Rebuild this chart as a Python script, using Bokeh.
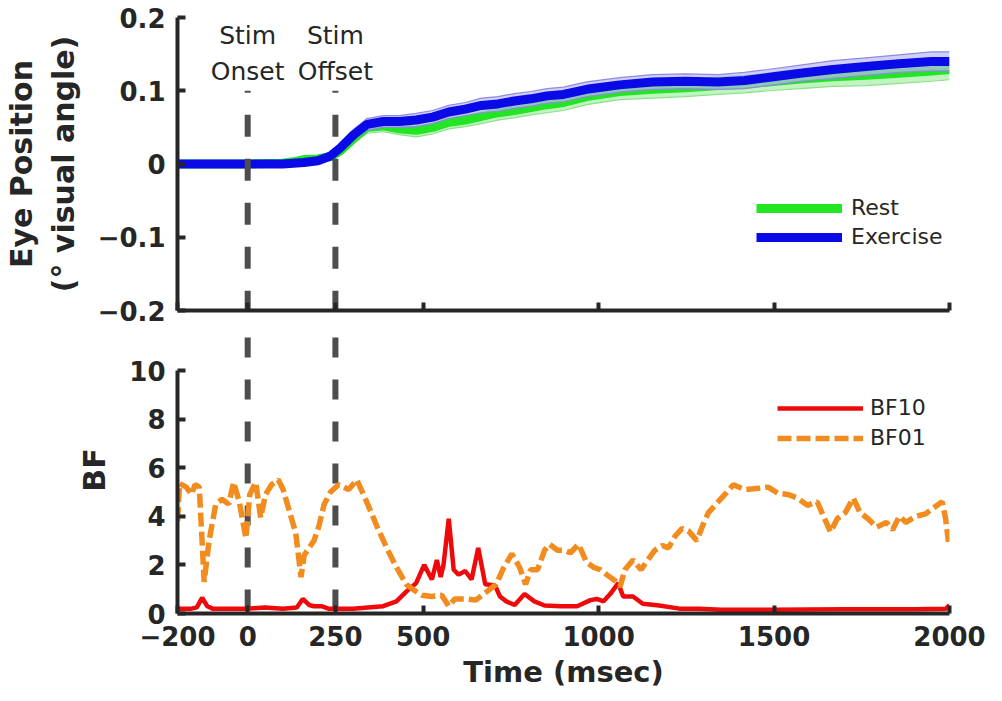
from bokeh.plotting import figure
from bokeh.models import Range1d, FixedTicker, Legend, LegendItem
from bokeh.layouts import column
from bokeh.core.properties import value
from bokeh.embed import file_html
from bokeh.resources import INLINE

# ---------------- data ----------------
time_ticks = [-200, 0, 250, 500, 1000, 1500, 2000]
time_tick_labels = ["\u2212200", "0", "250", "500", "1000", "1500", "2000"]
eye_ticks = [-0.2, -0.1, 0, 0.1, 0.2]
eye_tick_labels = ["\u22120.2", "\u22120.1", "0", "0.1", "0.2"]
bf_ticks = [0, 2, 4, 6, 8, 10]
bf_tick_labels = ["0", "2", "4", "6", "8", "10"]

stim_times = [0, 250]
stim_labels = ["Stim\nOnset", "Stim\nOffset"]

eye_t = [-200, -100, 0, 100, 130, 160, 200, 236, 264, 302, 340, 386, 432, 480,
         527, 573, 620, 666, 713, 760, 807, 853, 900, 966, 1060, 1154, 1247,
         1341, 1416, 1482, 1575, 1668, 1762, 1856, 1949, 2000]
exercise_mean = [0, 0, 0, 0, 0.001, 0.002, 0.0045, 0.011, 0.022, 0.040, 0.054,
                 0.058, 0.058, 0.060, 0.064, 0.071, 0.075, 0.080, 0.082, 0.086,
                 0.089, 0.093, 0.095, 0.102, 0.108, 0.112, 0.113, 0.112, 0.114,
                 0.118, 0.124, 0.129, 0.133, 0.137, 0.140, 0.140]
exercise_sem = [0.002, 0.002, 0.002, 0.003, 0.003, 0.004, 0.004, 0.005, 0.006,
                0.007, 0.008, 0.008, 0.008, 0.009, 0.009, 0.009, 0.009, 0.010,
                0.010, 0.010, 0.010, 0.010, 0.010, 0.010, 0.010, 0.010, 0.010,
                0.010, 0.011, 0.011, 0.011, 0.012, 0.012, 0.012, 0.013, 0.013]
rest_mean = [0, 0, 0, 0.001, 0.003, 0.006, 0.007, 0.010, 0.018, 0.035, 0.050,
             0.052, 0.048, 0.046, 0.050, 0.057, 0.060, 0.065, 0.070, 0.073,
             0.077, 0.081, 0.084, 0.092, 0.099, 0.102, 0.104, 0.107, 0.109,
             0.112, 0.116, 0.119, 0.121, 0.124, 0.127, 0.129]
rest_sem = [0.002, 0.002, 0.002, 0.003, 0.003, 0.004, 0.004, 0.005, 0.006,
            0.007, 0.008, 0.008, 0.008, 0.009, 0.009, 0.009, 0.009, 0.010,
            0.010, 0.010, 0.010, 0.011, 0.011, 0.011, 0.011, 0.012, 0.012,
            0.012, 0.012, 0.012, 0.013, 0.013, 0.014, 0.014, 0.014, 0.014]

bf01_t = [-200, -194, -175, -160, -150, -138, -130, -124, -110, -91, -73, -54,
          -40, -24, -5, 6, 23, 37, 51, 68, 87, 101, 119, 137, 152, 161, 175,
          189, 203, 218, 236, 259, 288, 311, 339, 368, 396, 424, 452, 475,
          497, 525, 553, 573, 590, 620, 650, 677, 708, 730, 753, 775, 792,
          806, 826, 846, 860, 883, 902, 920, 943, 966, 986, 1005, 1023, 1047,
          1061, 1075, 1098, 1121, 1140, 1160, 1182, 1199, 1219, 1238, 1256,
          1280, 1299, 1313, 1341, 1360, 1384, 1416, 1455, 1483, 1511, 1539,
          1567, 1595, 1623, 1641, 1661, 1680, 1703, 1726, 1745, 1768, 1792,
          1820, 1838, 1857, 1876, 1904, 1932, 1950, 1979, 1989, 1997]
bf01 = [3.8, 5.35, 5.2, 4.9, 5.3, 5.2, 3.0, 1.3, 3.0, 4.5, 4.7, 4.5,
        5.4, 4.6, 3.1, 4.9, 5.4, 3.95, 4.9, 5.3, 5.5, 5.1, 4.2, 3.3, 1.5, 2.4,
        2.7, 3.0, 3.6, 4.5, 5.0, 5.3, 5.1, 5.5, 4.6, 3.6, 2.7, 1.9, 1.2, 0.95,
        0.75, 0.7, 0.75, 0.3, 0.6, 0.6, 0.55, 0.85, 1.2, 1.9, 2.45, 1.9, 1.2,
        1.8, 1.8, 2.6, 2.85, 2.6, 2.6, 2.5, 2.85, 2.1, 1.9, 1.8, 1.6, 1.35,
        1.1, 1.8, 2.2, 1.8, 2.2, 2.6, 2.8, 2.7, 3.2, 3.5, 3.4,
        3.0, 3.7, 4.15, 4.6, 4.9, 5.3, 5.1, 5.15, 5.2, 4.95, 4.9,
        4.75, 4.45, 4.6, 4.0, 3.35, 3.9, 4.15, 4.75, 4.15, 3.9, 3.55,
        3.75, 3.45, 4.0, 3.75, 4.0, 4.1, 4.3, 4.6, 3.9, 2.95]

bf10_t = [-200, -160, -145, -130, -115, -100, 0, 50, 100, 140, 157, 175, 189,
          210, 230, 300, 386, 424, 452, 480, 503, 525, 539, 550, 558, 573, 587,
          601, 620, 638, 657, 677, 705, 719, 737, 761, 789, 817, 846, 893, 939,
          977, 995, 1014, 1033, 1056, 1070, 1098, 1126, 1173, 1230, 1286, 1350,
          1500, 1700, 1900, 1990, 2000]
bf10 = [0.2, 0.2, 0.25, 0.65, 0.3, 0.2, 0.2, 0.25, 0.2, 0.25, 0.6, 0.35, 0.3,
        0.3, 0.2, 0.2, 0.3, 0.5, 0.9, 1.25, 2.0, 1.4, 2.2, 1.5, 2.0, 3.9, 1.8,
        1.6, 1.75, 1.4, 2.7, 1.2, 1.15, 0.7, 0.5, 0.35, 0.8, 0.5, 0.33, 0.3, 0.3,
        0.55, 0.6, 0.5, 0.8, 1.25, 0.7, 0.7, 0.4, 0.33, 0.2, 0.2, 0.15,
        0.15, 0.18, 0.18, 0.2, 0.35]

# ---------------- style ----------------
AX = "#262626"
FONT = "DejaVu Sans"
GREEN = "#22e622"
BLUE = "#0a0ae6"
RED = "#ee0a0a"
ORANGE = "#f28c1e"
DASHGREY = "#4d4d4d"

W = 986
LEFT = 170
RIGHT = 37
TOP_H = 326
TOP_BORDER_TOP = 17
TOP_BORDER_BOTTOM = 16
BOT_H = 367
BOT_BORDER_BOTTOM = 80


def style_axis(ax, ticks, labels, show_labels=True):
    ax.ticker = FixedTicker(ticks=ticks)
    ax.axis_line_width = 4
    ax.axis_line_color = AX
    ax.major_tick_in = 8
    ax.major_tick_out = 0
    ax.major_tick_line_width = 4
    ax.major_tick_line_color = AX
    ax.minor_tick_line_color = None
    ax.major_label_text_font = FONT
    ax.major_label_text_font_style = "bold"
    ax.major_label_text_color = AX
    ax.axis_label_text_font = FONT
    ax.axis_label_text_font_style = "bold"
    ax.axis_label_text_color = AX
    ax.axis_label_text_font_size = "30px"
    if show_labels:
        ax.major_label_overrides = {t: l for t, l in zip(ticks, labels)}
        ax.major_label_text_font_size = "26px"
        ax.major_label_standoff = 12
    else:
        ax.major_label_overrides = {t: "" for t in ticks}
        ax.major_label_text_font_size = "10px"
        ax.major_label_standoff = 0


# ---------------- top panel ----------------
p1 = figure(width=W, height=TOP_H, x_range=Range1d(-200, 2000),
            y_range=Range1d(-0.2, 0.2), output_backend="svg",
            toolbar_location=None, min_border_left=LEFT,
            min_border_right=RIGHT, min_border_top=TOP_BORDER_TOP,
            min_border_bottom=TOP_BORDER_BOTTOM)
p1.grid.grid_line_color = None
p1.outline_line_color = None
p1.background_fill_color = None
p1.border_fill_color = None
style_axis(p1.xaxis[0], time_ticks, time_tick_labels, show_labels=False)
style_axis(p1.yaxis[0], eye_ticks, eye_tick_labels)
p1.yaxis[0].axis_label = "Eye Position\n(\u00b0 visual angle)"
p1.yaxis[0].axis_label_standoff = 14

rest_lo = [m - s for m, s in zip(rest_mean, rest_sem)]
rest_hi = [m + s for m, s in zip(rest_mean, rest_sem)]
ex_lo = [m - s for m, s in zip(exercise_mean, exercise_sem)]
ex_hi = [m + s for m, s in zip(exercise_mean, exercise_sem)]

p1.varea(x=eye_t, y1=rest_lo, y2=rest_hi, fill_color="#a6f0a6", fill_alpha=0.7)
p1.line(eye_t, rest_lo, line_color="#8ee08e", line_width=1.2)
p1.line(eye_t, rest_hi, line_color="#8ee08e", line_width=1.2)
r_rest = p1.line(eye_t, rest_mean, line_color=GREEN, line_width=9)
p1.varea(x=eye_t, y1=ex_lo, y2=ex_hi, fill_color="#bcbcf2", fill_alpha=0.7)
p1.line(eye_t, ex_lo, line_color="#8c8ce0", line_width=1.2)
p1.line(eye_t, ex_hi, line_color="#8c8ce0", line_width=1.2)
r_ex = p1.line(eye_t, exercise_mean, line_color=BLUE, line_width=9)

p1.segment(x0=stim_times, y0=[0.1] * 2, x1=stim_times, y1=[-0.2] * 2,
           line_color=DASHGREY, line_width=6, line_dash="22 22",
           line_dash_offset=20)
p1.text(x=stim_times, y=[0.1] * 2, text=stim_labels, text_align="center",
        text_baseline="bottom", y_offset=-5, text_font=value(FONT),
        text_font_size="25px", text_color=AX, text_line_height=1.22)

leg1 = Legend(items=[LegendItem(label="Rest", renderers=[r_rest]),
                     LegendItem(label="Exercise", renderers=[r_ex])],
              location=(579, 61), glyph_width=86, glyph_height=22,
              label_height=22, label_standoff=9, spacing=4, padding=0,
              margin=0, border_line_color=None, background_fill_alpha=0,
              label_text_font=FONT, label_text_font_size="22px",
              label_text_color=AX)
p1.add_layout(leg1)

# ---------------- bottom panel ----------------
# frame spans from the bottom of the top figure down to the BF = 0 axis
frame_px = BOT_H - BOT_BORDER_BOTTOM
bf_top = 10 * frame_px / 243.0
p2 = figure(width=W, height=BOT_H, x_range=Range1d(-200, 2000),
            y_range=Range1d(0, bf_top), output_backend="svg",
            toolbar_location=None, min_border_left=LEFT,
            min_border_right=RIGHT, min_border_top=0,
            min_border_bottom=BOT_BORDER_BOTTOM)
p2.grid.grid_line_color = None
p2.outline_line_color = None
p2.background_fill_color = None
p2.border_fill_color = None
style_axis(p2.xaxis[0], time_ticks, time_tick_labels)
style_axis(p2.yaxis[0], bf_ticks, bf_tick_labels)
p2.yaxis[0].bounds = (0, 10)
p2.yaxis[0].axis_label = "BF"
p2.yaxis[0].axis_label_standoff = 14
p2.xaxis[0].axis_label = "Time (msec)"
p2.xaxis[0].axis_label_text_font_size = "29px"
p2.xaxis[0].axis_label_standoff = 6
p2.xaxis[0].major_label_standoff = 12

p2.segment(x0=stim_times, y0=[bf_top] * 2, x1=stim_times, y1=[0] * 2,
           line_color=DASHGREY, line_width=6, line_dash="20 22",
           line_dash_offset=31)
r_bf10 = p2.line(bf10_t, bf10, line_color=RED, line_width=4.5)
r_bf01 = p2.line(bf01_t, bf01, line_color=ORANGE, line_width=5.5,
                 line_dash="14 5")

leg2 = Legend(items=[LegendItem(label="BF10", renderers=[r_bf10]),
                     LegendItem(label="BF01", renderers=[r_bf01])],
              location=(600, 163), glyph_width=86, glyph_height=24,
              label_height=24, label_standoff=7, spacing=5, padding=0,
              margin=0, border_line_color=None, background_fill_alpha=0,
              label_text_font=FONT, label_text_font_size="22px",
              label_text_color=AX)
p2.add_layout(leg2)

layout = column(p1, p2, spacing=0)
open("out.html", "w").write(file_html(layout, INLINE))
